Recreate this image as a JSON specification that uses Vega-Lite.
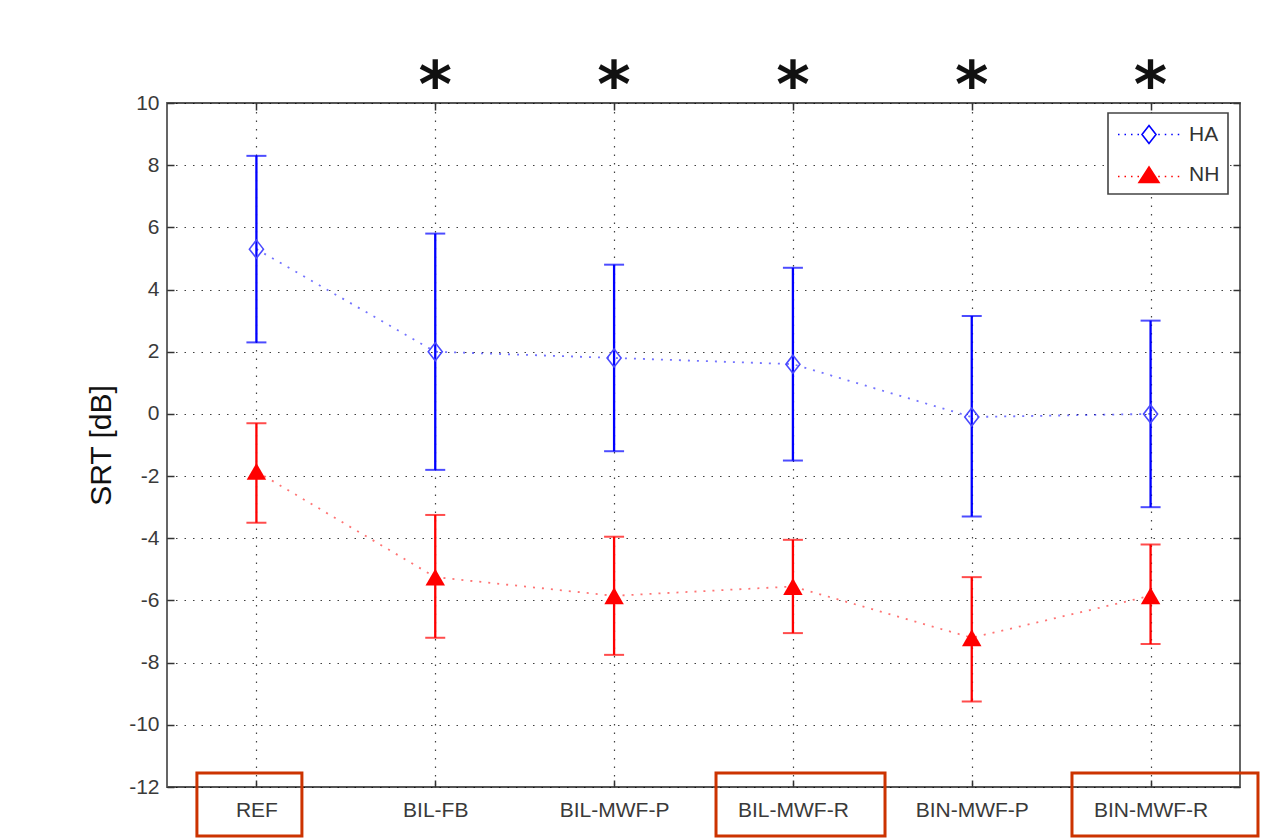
{
  "$schema": "https://vega.github.io/schema/vega-lite/v6.json",
  "width": 1073,
  "height": 684,
  "autosize": {"type": "none"},
  "padding": {"left": 167, "top": 103, "right": 44, "bottom": 52},
  "background": "#ffffff",
  "datasets": {
    "main": [
      {"condition": "REF", "group": "HA", "mean": 5.3, "lower": 2.3, "upper": 8.3},
      {"condition": "BIL-FB", "group": "HA", "mean": 2.0, "lower": -1.8, "upper": 5.8},
      {"condition": "BIL-MWF-P", "group": "HA", "mean": 1.8, "lower": -1.2, "upper": 4.8},
      {"condition": "BIL-MWF-R", "group": "HA", "mean": 1.6, "lower": -1.5, "upper": 4.7},
      {"condition": "BIN-MWF-P", "group": "HA", "mean": -0.1, "lower": -3.3, "upper": 3.15},
      {"condition": "BIN-MWF-R", "group": "HA", "mean": 0.0, "lower": -3.0, "upper": 3.0},
      {"condition": "REF", "group": "NH", "mean": -1.85, "lower": -3.5, "upper": -0.3},
      {"condition": "BIL-FB", "group": "NH", "mean": -5.25, "lower": -7.2, "upper": -3.25},
      {"condition": "BIL-MWF-P", "group": "NH", "mean": -5.85, "lower": -7.75, "upper": -3.95},
      {"condition": "BIL-MWF-R", "group": "NH", "mean": -5.55, "lower": -7.05, "upper": -4.05},
      {"condition": "BIN-MWF-P", "group": "NH", "mean": -7.2, "lower": -9.25, "upper": -5.25},
      {"condition": "BIN-MWF-R", "group": "NH", "mean": -5.85, "lower": -7.4, "upper": -4.2}
    ],
    "sig": [
      {"condition": "BIL-FB", "mark": "*"},
      {"condition": "BIL-MWF-P", "mark": "*"},
      {"condition": "BIL-MWF-R", "mark": "*"},
      {"condition": "BIN-MWF-P", "mark": "*"},
      {"condition": "BIN-MWF-R", "mark": "*"}
    ],
    "boxed": [
      {"condition": "REF"},
      {"condition": "BIL-MWF-R"},
      {"condition": "BIN-MWF-R"}
    ]
  },
  "data": {"name": "main"},
  "layer": [
    {
      "mark": {"type": "rule", "strokeWidth": 2.3},
      "encoding": {
        "x": {"field": "condition", "type": "nominal", "sort": null,
          "scale": {"type": "point", "padding": 0.5, "domain": ["REF", "BIL-FB", "BIL-MWF-P", "BIL-MWF-R", "BIN-MWF-P", "BIN-MWF-R"]},
          "axis": {"orient": "bottom", "title": null, "labelAngle": 0, "labelFontSize": 21, "labelColor": "#3a3a3a", "labelFont": "Liberation Sans", "grid": true, "ticks": true, "tickSize": -7, "tickColor": "#333333", "tickWidth": 1.5, "labelPadding": 19, "domain": false}},
        "y": {"field": "lower", "type": "quantitative",
          "scale": {"domain": [-12, 10], "nice": false, "zero": false},
          "axis": {"orient": "left", "title": "SRT [dB]", "titleFontSize": 30, "titleFont": "Liberation Sans", "titleFontWeight": "normal", "titleColor": "#111111", "titlePadding": 12, "values": [-12, -10, -8, -6, -4, -2, 0, 2, 4, 6, 8, 10], "labelExpr": "toString(datum.value)", "labelFontSize": 21, "labelColor": "#3a3a3a", "labelFont": "Liberation Sans", "grid": true, "ticks": true, "tickSize": -7, "tickColor": "#333333", "tickWidth": 1.5, "labelPadding": 15, "domain": false}},
        "y2": {"field": "upper"},
        "color": {"field": "group", "type": "nominal",
          "scale": {"domain": ["HA", "NH"], "range": ["#0000ff", "#ff0000"]},
          "legend": {"orient": "none", "legendX": 941, "legendY": 10, "title": null, "padding": 8, "strokeColor": "#444444", "fillColor": "#ffffff", "labelFontSize": 21, "labelFont": "Liberation Sans", "labelColor": "#333333", "symbolSize": 625, "symbolStrokeWidth": 1.6, "rowPadding": 14, "labelOffset": 46,
            "encode": {
              "legend": {"update": {"strokeWidth": {"value": 1.6}}},
              "symbols": {
                "enter": {
                  "fillOpacity": {"signal": "datum.value === 'HA' ? 0 : 1"}
                },
                "update": {
                "shape": {"signal": "datum.value === 'HA' ? 'M-0.92,0h0.12M-0.4,0h0.12M0.12,0h0.12M0.64,0h0.12M2.3,0h0.12M2.82,0h0.12M3.34,0h0.12M3.86,0h0.12M1.56,-0.72L2.12,0L1.56,0.72L1,0Z' : 'M-0.92,0.16h0.12M-0.4,0.16h0.12M0.12,0.16h0.12M0.64,0.16h0.12M2.3,0.16h0.12M2.82,0.16h0.12M3.34,0.16h0.12M3.86,0.16h0.12M1.56,-0.6L2.36,0.64L0.76,0.64Z'"},
                "fill": {"signal": "datum.value === 'HA' ? '#ffffff' : '#ff0000'"},
                "fillOpacity": {"signal": "datum.value === 'HA' ? 0 : 1"},
                "stroke": {"signal": "datum.value === 'HA' ? '#6a6aff' : '#ff5a5a'"},
                "opacity": {"value": 1},
                "strokeOpacity": {"value": 1}
              }}
            }}}
      }
    },
    {
      "mark": {"type": "tick", "orient": "horizontal", "size": 20, "thickness": 2},
      "encoding": {
        "x": {"field": "condition", "type": "nominal", "sort": null, "axis": null},
        "y": {"field": "upper", "type": "quantitative", "axis": null},
        "color": {"field": "group", "type": "nominal", "legend": null}
      }
    },
    {
      "mark": {"type": "tick", "orient": "horizontal", "size": 20, "thickness": 2},
      "encoding": {
        "x": {"field": "condition", "type": "nominal", "sort": null, "axis": null},
        "y": {"field": "lower", "type": "quantitative", "axis": null},
        "color": {"field": "group", "type": "nominal", "legend": null}
      }
    },
    {
      "mark": {"type": "line", "strokeDash": [2, 7], "strokeWidth": 1.8, "opacity": 0.55},
      "encoding": {
        "x": {"field": "condition", "type": "nominal", "sort": null,
          "axis": {"orient": "top", "title": null, "labels": false, "grid": false, "ticks": true, "tickSize": -7, "tickColor": "#333333", "tickWidth": 1.5, "domain": false}},
        "y": {"field": "mean", "type": "quantitative",
          "axis": {"orient": "right", "title": null, "labels": false, "grid": false, "ticks": true, "tickSize": -7, "tickColor": "#333333", "tickWidth": 1.5, "domain": false, "values": [-12, -10, -8, -6, -4, -2, 0, 2, 4, 6, 8, 10]}},
        "color": {"field": "group", "type": "nominal", "legend": null}
      }
    },
    {
      "transform": [{"filter": "datum.group === 'HA'"}],
      "mark": {"type": "point", "shape": "M0,-1L0.78,0L0,1L-0.78,0Z", "size": 324, "filled": false, "stroke": "#4a4aff", "strokeWidth": 1.6, "opacity": 1},
      "encoding": {
        "x": {"field": "condition", "type": "nominal", "sort": null, "axis": null},
        "y": {"field": "mean", "type": "quantitative", "axis": null}
      }
    },
    {
      "transform": [{"filter": "datum.group === 'NH'"}],
      "mark": {"type": "point", "shape": "triangle-up", "size": 380, "filled": true, "fill": "#ff0000", "opacity": 1},
      "encoding": {
        "x": {"field": "condition", "type": "nominal", "sort": null, "axis": null},
        "y": {"field": "mean", "type": "quantitative", "axis": null}
      }
    },
    {
      "data": {"name": "sig"},
      "mark": {"type": "text", "fontSize": 64, "fontWeight": "bold", "font": "DejaVu Sans", "color": "#111111", "baseline": "middle", "dy": -15},
      "encoding": {
        "x": {"field": "condition", "type": "nominal", "sort": null, "axis": null},
        "y": {"datum": 10, "type": "quantitative", "axis": null},
        "text": {"field": "mark"}
      }
    },
    {
      "data": {"name": "boxed"},
      "transform": [{"filter": "datum.condition === 'REF'"}],
      "mark": {"type": "bar", "width": 105, "xOffset": -7, "fill": "#ffffff", "fillOpacity": 0, "stroke": "#cc3300", "strokeWidth": 3},
      "encoding": {
        "x": {"field": "condition", "type": "nominal", "sort": null, "axis": null},
        "y": {"datum": -11.55, "type": "quantitative", "axis": null},
        "y2": {"datum": -13.58}
      }
    },
    {
      "data": {"name": "boxed"},
      "transform": [{"filter": "datum.condition === 'BIL-MWF-R'"}],
      "mark": {"type": "bar", "width": 169, "xOffset": 7.6, "fill": "#ffffff", "fillOpacity": 0, "stroke": "#cc3300", "strokeWidth": 3},
      "encoding": {
        "x": {"field": "condition", "type": "nominal", "sort": null, "axis": null},
        "y": {"datum": -11.55, "type": "quantitative", "axis": null},
        "y2": {"datum": -13.58}
      }
    },
    {
      "data": {"name": "boxed"},
      "transform": [{"filter": "datum.condition === 'BIN-MWF-R'"}],
      "mark": {"type": "bar", "width": 186, "xOffset": 14.4, "fill": "#ffffff", "fillOpacity": 0, "stroke": "#cc3300", "strokeWidth": 3},
      "encoding": {
        "x": {"field": "condition", "type": "nominal", "sort": null, "axis": null},
        "y": {"datum": -11.55, "type": "quantitative", "axis": null},
        "y2": {"datum": -13.58}
      }
    }
  ],
  "resolve": {"axis": {"x": "independent", "y": "independent"}},
  "config": {
    "view": {"stroke": "#555555", "strokeWidth": 1.8},
    "axis": {"gridColor": "#000000", "gridOpacity": 0.75, "gridWidth": 1.2, "gridDash": [1.5, 7]}
  }
}
